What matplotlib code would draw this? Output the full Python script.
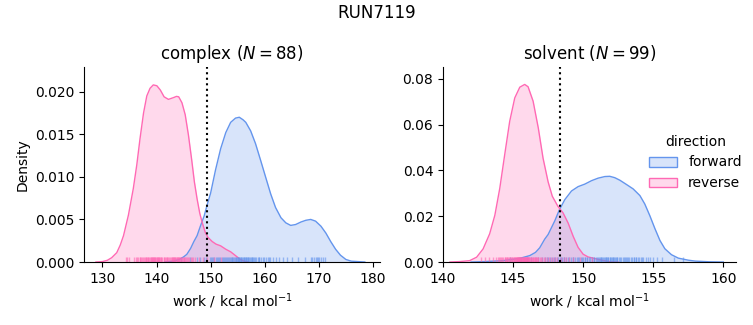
import numpy as np
import matplotlib
matplotlib.use("Agg")
import matplotlib.pyplot as plt
from matplotlib.patches import Patch

# colours used for the two directions
fwd_color = "#6495ED"
rev_color = "#FF69B4"

# kde curves (work, density)
complex_fwd_x = [141.5, 143.1, 144.2, 145.0, 145.6, 146.3, 146.9, 147.5, 148.1, 148.8, 149.4, 150.0,
                 150.9, 151.85, 152.8, 153.7, 154.6, 155.3, 156.0, 156.5, 157.4, 158.3, 159.26, 160.2,
                 161.1, 162.0, 163.0, 163.9, 164.8, 165.7, 166.7, 167.6, 168.5, 169.4, 170.4, 171.3,
                 172.2, 173.1, 174.0, 175.0, 176.0, 178.5]
complex_fwd_y = [0.0, 0.0001, 0.0003, 0.0006, 0.0009, 0.0016, 0.0024, 0.0031, 0.0042, 0.0054, 0.0068, 0.0081,
                 0.0108, 0.0133, 0.0152, 0.0164, 0.0169, 0.0170, 0.0167, 0.0164, 0.0154, 0.0139, 0.0119, 0.0099,
                 0.0080, 0.0064, 0.0052, 0.0046, 0.0043, 0.0044, 0.0047, 0.0049, 0.0050, 0.0048, 0.0042, 0.0034,
                 0.0024, 0.0015, 0.0008, 0.0003, 0.0001, 0.0]
complex_rev_x = [128.8, 130.0, 130.9, 131.7, 132.65, 133.3, 133.9, 134.8, 135.7, 136.35, 136.95, 137.6,
                 138.2, 138.8, 139.4, 140.06, 140.7, 141.4, 142.2, 143.1, 143.7, 144.1, 144.7, 145.3,
                 145.9, 146.5, 147.0, 147.5, 148.0, 148.46, 149.0, 149.5, 150.3, 151.0, 151.85, 152.8,
                 153.7, 154.3, 154.9, 155.5, 156.2, 157.0]
complex_rev_y = [0.0, 0.00005, 0.0002, 0.0005, 0.0011, 0.0020, 0.0031, 0.0055, 0.0086, 0.0114, 0.0145, 0.0175,
                 0.0195, 0.0204, 0.0208, 0.0207, 0.0202, 0.0194, 0.0191, 0.0193, 0.01945, 0.0194, 0.0187, 0.0173,
                 0.0149, 0.0120, 0.0094, 0.0074, 0.0057, 0.0046, 0.0035, 0.0029, 0.0024, 0.0021, 0.0019, 0.0015,
                 0.0012, 0.0009, 0.0006, 0.0003, 0.0001, 0.0]

solvent_fwd_x = [142.0, 143.0, 144.29, 145.48, 146.19, 146.6, 146.9, 147.26, 147.5, 147.74, 147.98, 148.29,
                 148.69, 149.17, 149.64, 150.12, 150.6, 151.07, 151.55, 151.9, 152.26, 152.62, 153.1, 153.57,
                 154.05, 154.4, 154.76, 155.12, 155.48, 155.83, 156.3, 156.79, 157.5, 158.0, 159.0, 160.0]
solvent_fwd_y = [0.0, 0.0002, 0.0006, 0.0016, 0.0028, 0.0042, 0.0062, 0.0100, 0.0120, 0.0150, 0.0180, 0.0226,
                 0.0272, 0.0310, 0.0329, 0.0340, 0.0355, 0.0366, 0.0373, 0.0374, 0.0368, 0.0357, 0.0338, 0.0319,
                 0.0290, 0.0253, 0.0202, 0.0146, 0.0094, 0.0058, 0.0032, 0.0017, 0.0008, 0.0004, 0.0001, 0.0]
solvent_rev_x = [140.5, 141.2, 141.9, 142.4, 142.86, 143.33, 143.7, 144.05, 144.4, 144.76, 145.12, 145.48,
                 145.83, 146.07, 146.43, 146.8, 147.14, 147.5, 147.8, 148.2, 148.57, 148.93, 149.29, 149.64,
                 150.0, 150.36, 150.84, 151.4, 152.0, 152.5]
solvent_rev_y = [0.0, 0.0002, 0.0006, 0.0021, 0.0057, 0.0123, 0.0204, 0.0321, 0.0467, 0.0614, 0.0716, 0.0763,
                 0.0775, 0.0765, 0.0702, 0.0585, 0.0453, 0.0350, 0.0287, 0.0243, 0.0214, 0.0170, 0.0112, 0.0064,
                 0.0034, 0.0022, 0.0015, 0.0007, 0.0001, 0.0]

# individual work values (rug)
complex_fwd_work = [144.6, 146.2, 147.5, 148.1, 148.7, 149.2, 149.8, 150.0, 150.3, 150.5, 150.7, 151.0,
                    151.2, 151.4, 151.6, 151.8, 152.1, 152.2, 152.4, 152.7, 152.9, 153.0, 153.2, 153.4,
                    153.5, 153.7, 153.9, 154.0, 154.1, 154.3, 154.5, 154.6, 154.7, 154.8, 155.0, 155.1,
                    155.2, 155.3, 155.5, 155.6, 155.7, 155.8, 156.0, 156.1, 156.2, 156.3, 156.5, 156.6,
                    156.7, 156.9, 157.0, 157.1, 157.3, 157.5, 157.6, 157.7, 157.9, 158.0, 158.2, 158.4,
                    158.7, 158.9, 159.0, 159.3, 159.6, 159.9, 160.3, 160.6, 160.8, 161.0, 161.5, 162.0,
                    162.6, 163.4, 164.2, 165.1, 166.1, 167.4, 168.5, 168.8, 169.1, 169.4, 169.7, 169.9,
                    170.0, 170.4, 170.8, 171.2]
complex_rev_work = [134.3, 134.6, 135.0, 135.8, 136.2, 136.4, 136.6, 136.9, 137.0, 137.2, 137.4, 137.5,
                    137.7, 137.9, 138.0, 138.1, 138.3, 138.4, 138.5, 138.7, 138.8, 138.9, 139.0, 139.1,
                    139.2, 139.3, 139.4, 139.5, 139.6, 139.7, 139.8, 139.9, 140.0, 140.1, 140.2, 140.3,
                    140.4, 140.5, 140.7, 140.8, 140.9, 141.1, 141.3, 141.4, 141.5, 141.7, 141.9, 142.0,
                    142.1, 142.3, 142.5, 142.6, 142.8, 142.9, 143.0, 143.1, 143.2, 143.3, 143.4, 143.5,
                    143.6, 143.7, 143.8, 143.9, 144.0, 144.1, 144.2, 144.3, 144.5, 144.6, 144.7, 144.9,
                    145.0, 145.1, 145.3, 145.5, 145.6, 145.9, 146.0, 146.3, 146.5, 146.7, 147.2, 147.8,
                    148.5, 149.4, 150.6, 151.9]
solvent_fwd_work = [144.8, 145.6, 146.0, 146.3, 146.8, 147.1, 147.3, 147.4, 147.5, 147.6, 147.8, 147.9,
                    148.0, 148.1, 148.2, 148.35, 148.4, 148.5, 148.6, 148.65, 148.8, 148.95, 149.0, 149.1,
                    149.25, 149.3, 149.4, 149.55, 149.6, 149.7, 149.85, 149.9, 150.0, 150.1, 150.15, 150.25,
                    150.3, 150.45, 150.5, 150.6, 150.65, 150.75, 150.8, 150.9, 151.0, 151.05, 151.15, 151.2,
                    151.25, 151.3, 151.35, 151.4, 151.5, 151.55, 151.6, 151.65, 151.7, 151.75, 151.8, 151.9,
                    151.95, 152.0, 152.05, 152.1, 152.15, 152.2, 152.3, 152.35, 152.4, 152.45, 152.55, 152.6,
                    152.7, 152.85, 152.9, 153.0, 153.05, 153.15, 153.2, 153.3, 153.45, 153.5, 153.6, 153.65,
                    153.75, 153.8, 153.9, 154.0, 154.1, 154.2, 154.3, 154.5, 154.6, 154.75, 155.0, 155.3,
                    155.6, 156.5, 157.1]
solvent_rev_work = [142.7, 143.0, 143.3, 143.6, 143.75, 143.9, 144.0, 144.1, 144.15, 144.2, 144.3, 144.4,
                    144.45, 144.5, 144.55, 144.6, 144.65, 144.7, 144.75, 144.8, 144.85, 144.9, 144.95, 145.0,
                    145.05, 145.1, 145.12, 145.15, 145.18, 145.2, 145.25, 145.28, 145.3, 145.32, 145.35, 145.38,
                    145.4, 145.42, 145.45, 145.48, 145.5, 145.52, 145.55, 145.58, 145.6, 145.62, 145.65, 145.68,
                    145.7, 145.72, 145.75, 145.78, 145.8, 145.82, 145.85, 145.88, 145.9, 145.92, 145.95, 145.98,
                    146.0, 146.02, 146.05, 146.08, 146.1, 146.12, 146.15, 146.2, 146.25, 146.3, 146.35, 146.4,
                    146.45, 146.5, 146.55, 146.6, 146.62, 146.65, 146.7, 146.75, 146.8, 146.9, 147.0, 147.1,
                    147.2, 147.3, 147.4, 147.55, 147.7, 147.85, 148.0, 148.15, 148.4, 148.6, 148.8, 149.0,
                    149.3, 149.8, 150.6]

# free energy estimates (dotted lines)
complex_dg = 149.39
solvent_dg = 148.36

fig = plt.figure(figsize=(7.53, 3.25), dpi=100)
ax1 = fig.add_axes([0.1116, 0.1938, 0.393, 0.6])
ax2 = fig.add_axes([0.5883, 0.1938, 0.389, 0.6])

panels = [
    (ax1, "complex ($N = 88$)", complex_fwd_x, complex_fwd_y, complex_rev_x, complex_rev_y,
     complex_fwd_work, complex_rev_work, complex_dg, (126.6, 181.3), (0, 0.0229)),
    (ax2, "solvent ($N = 99$)", solvent_fwd_x, solvent_fwd_y, solvent_rev_x, solvent_rev_y,
     solvent_fwd_work, solvent_rev_work, solvent_dg, (140, 160.9), (0, 0.0851)),
]

for ax, title, fx, fy, rx, ry, fw, rw, dg, xl, yl in panels:
    for xs, ys, c in [(fx, fy, fwd_color), (rx, ry, rev_color)]:
        ax.fill_between(xs, ys, color=c, alpha=0.25, lw=0)
        ax.plot(xs, ys, color=c, lw=1.0)
    for w, c in [(fw, fwd_color), (rw, rev_color)]:
        ax.vlines(w, 0, 0.025, transform=ax.get_xaxis_transform(), color=c, lw=1, alpha=0.6)
    ax.axvline(dg, color="black", ls=":", lw=1.5)
    ax.set_xlim(xl)
    ax.set_ylim(yl)
    ax.set_title(title, fontsize=12)
    ax.set_xlabel("work / kcal mol$^{-1}$")
    ax.spines["top"].set_visible(False)
    ax.spines["right"].set_visible(False)

ax1.set_ylabel("Density")
ax2.set_xticks([140, 145, 150, 155, 160])

handles = [Patch(facecolor=matplotlib.colors.to_rgba(fwd_color, 0.25), edgecolor=fwd_color),
           Patch(facecolor=matplotlib.colors.to_rgba(rev_color, 0.25), edgecolor=rev_color)]
fig.legend(handles, ["forward", "reverse"], title="direction", frameon=False,
           loc="center left", bbox_to_anchor=(0.8457, 0.5))

fig.suptitle("RUN7119", fontsize=12, y=0.96, va="center")

fig.savefig("out.png", dpi=100)
